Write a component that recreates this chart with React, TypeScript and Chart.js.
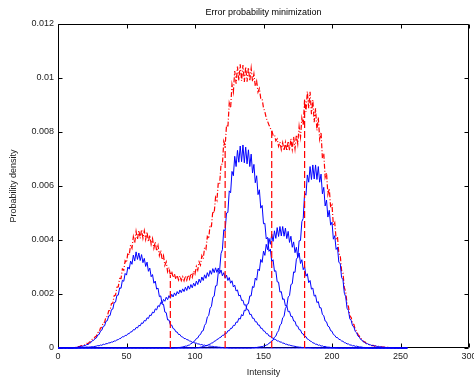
import React, { useEffect, useRef } from "react";
import { Chart, registerables } from "chart.js";

Chart.register(...registerables);

const chartTitle = "Error probability minimization";
const xAxisLabel = "Intensity";
const yAxisLabel = "Probability density";
const intensityMax = 255;
const xMin = 0;
const xMax = 300;
const xStep = 50;
const yMin = 0;
const yMax = 0.012;
const yStep = 0.002;

// decision thresholds (intensity)
const thresholds = [82, 122, 156, 180];

// class-conditional densities, values in units of 1e-5, starting at the given intensity
const densityUnit = 1e-5;

const class1Start = 10;
const class1 = [
  0, 1, 1, 2, 3, 4, 5, 7, 6, 9,
  9, 13, 13, 18, 20, 27, 28, 35, 37, 48,
  50, 63, 66, 80, 82, 99, 101, 119, 120, 142,
  144, 168, 170, 195, 196, 223, 221, 251, 247, 276,
  270, 300, 292, 322, 310, 344, 322, 356, 328, 352,
  324, 346, 316, 332, 302, 318, 284, 296, 264, 272,
  240, 248, 218, 222, 190, 193, 162, 162, 133, 131,
  104, 104, 86, 85, 72, 70, 60, 59, 50, 50,
  42, 41, 35, 35, 31, 30, 26, 25, 21, 21,
  18, 18, 15, 15, 12, 13, 10, 11, 8, 9,
  7, 7, 6, 6, 4, 5, 4, 3, 3, 2,
  2, 1, 1, 1, 1, 0,
];

const class2Start = 15;
const class2 = [
  1, 1, 2, 2, 3, 3, 4, 3, 4, 4,
  5, 5, 6, 7, 9, 8, 11, 10, 14, 13,
  16, 16, 19, 19, 22, 22, 26, 26, 30, 31,
  35, 36, 42, 41, 47, 46, 53, 53, 60, 60,
  68, 67, 76, 74, 84, 82, 93, 91, 102, 100,
  112, 109, 122, 120, 133, 130, 145, 141, 157, 153,
  169, 165, 180, 173, 188, 179, 194, 184, 199, 189,
  204, 194, 209, 200, 215, 205, 219, 209, 225, 213,
  230, 218, 235, 223, 240, 229, 248, 235, 255, 242,
  263, 250, 271, 258, 279, 265, 287, 273, 294, 279,
  297, 280, 296, 276, 289, 267, 279, 258, 270, 250,
  261, 240, 249, 226, 233, 211, 215, 193, 196, 176,
  177, 159, 160, 142, 141, 124, 125, 110, 110, 97,
  97, 85, 85, 73, 73, 63, 62, 53, 53, 44,
  44, 37, 37, 32, 31, 26, 26, 22, 22, 18,
  18, 14, 14, 11, 11, 9, 8, 7, 6, 5,
  4, 3, 3, 2, 2, 2, 1, 1, 1, 1, 0,
];

const class3Start = 85;
const class3 = [
  0, 1, 1, 2, 2, 3, 4, 5, 7, 7,
  10, 11, 16, 18, 24, 27, 35, 37, 47, 50,
  62, 64, 84, 91, 115, 120, 147, 154, 188, 192,
  230, 231, 280, 290, 350, 364, 438, 434, 500, 502,
  582, 575, 654, 638, 710, 672, 732, 688, 748, 690,
  752, 686, 744, 682, 734, 672, 718, 648, 680, 612,
  638, 568, 586, 518, 528, 460, 462, 404, 410, 358,
  366, 320, 327, 284, 286, 245, 244, 207, 209, 180,
  182, 156, 157, 134, 136, 117, 117, 100, 99, 82,
  81, 68, 67, 54, 52, 43, 42, 33, 31, 26,
  24, 19, 18, 14, 14, 10, 11, 7, 8, 5,
  6, 4, 3, 3, 2, 2, 1, 1, 1, 0, 0,
];

const class4Start = 100;
const class4 = [
  0, 1, 1, 2, 3, 4, 6, 6, 9, 10,
  13, 14, 18, 19, 25, 26, 32, 33, 39, 40,
  47, 47, 55, 54, 64, 64, 73, 73, 84, 83,
  96, 95, 110, 107, 124, 119, 140, 138, 162, 164,
  193, 193, 228, 224, 259, 251, 292, 286, 328, 317,
  359, 343, 384, 364, 406, 384, 422, 395, 434, 406,
  446, 413, 450, 415, 450, 414, 444, 405, 432, 391,
  414, 373, 393, 353, 373, 335, 352, 313, 327, 290,
  302, 266, 275, 242, 250, 218, 222, 192, 196, 168,
  172, 149, 149, 124, 120, 100, 97, 81, 78, 64,
  62, 50, 47, 39, 39, 32, 31, 26, 25, 20,
  19, 15, 15, 11, 11, 8, 9, 6, 7, 5,
  4, 4, 3, 2, 2, 1, 1, 1, 0, 0, 0,
];

const class5Start = 140;
const class5 = [
  0, 0, 1, 1, 2, 2, 3, 4, 5, 5,
  7, 8, 11, 12, 18, 20, 27, 29, 40, 44,
  57, 64, 84, 89, 112, 117, 147, 154, 189, 194,
  235, 238, 282, 280, 329, 336, 397, 398, 468, 480,
  574, 566, 641, 614, 672, 624, 678, 626, 678, 624,
  672, 614, 644, 571, 595, 526, 548, 485, 510, 455,
  466, 403, 416, 365, 373, 317, 313, 261, 253, 203,
  190, 147, 139, 108, 102, 82, 78, 61, 56, 44,
  40, 31, 29, 22, 21, 16, 16, 12, 12, 9,
  10, 7, 8, 5, 6, 4, 4, 3, 3, 2,
  2, 2, 1, 1, 1, 1, 0, 0, 0,
];

const classes: [number, number[]][] = [
  [class1Start, class1],
  [class2Start, class2],
  [class3Start, class3],
  [class4Start, class4],
  [class5Start, class5],
];

const FONT = "'Liberation Sans', Arial, Helvetica, sans-serif";

function expand(start: number, vals: number[]): number[] {
  const out: number[] = [];
  for (let i = 0; i <= intensityMax; i++) out.push(0);
  vals.forEach((v, i) => {
    if (start + i <= intensityMax) out[start + i] = v * densityUnit;
  });
  return out;
}

const framePlugin = {
  id: "matlabFrame",
  beforeDatasetsDraw(chart: any) {
    const { ctx, chartArea, scales } = chart;
    const l = Math.round(chartArea.left) + 0.5;
    const r = Math.round(chartArea.right) - 0.5;
    const t = Math.round(chartArea.top) + 0.5;
    const b = Math.round(chartArea.bottom) - 0.5;
    const tl = 4;
    ctx.save();
    ctx.strokeStyle = "#000";
    ctx.lineWidth = 1;
    ctx.beginPath();
    ctx.rect(l, t, r - l, b - t);
    scales.x.ticks.forEach((tk: any) => {
      const px = Math.round(scales.x.getPixelForValue(tk.value)) + 0.5;
      ctx.moveTo(px, b);
      ctx.lineTo(px, b - tl);
      ctx.moveTo(px, t);
      ctx.lineTo(px, t + tl);
    });
    scales.y.ticks.forEach((tk: any) => {
      const py = Math.round(scales.y.getPixelForValue(tk.value)) + 0.5;
      ctx.moveTo(l, py);
      ctx.lineTo(l + tl, py);
      ctx.moveTo(r, py);
      ctx.lineTo(r - tl, py);
    });
    ctx.stroke();
    ctx.restore();
  },
};

export default function App() {
  const canvasRef = useRef<HTMLCanvasElement | null>(null);

  useEffect(() => {
    const canvas = canvasRef.current;
    if (!canvas) return;

    const classCurves = classes.map(([s, v]) => expand(s, v));
    const mixture: number[] = [];
    for (let i = 0; i <= intensityMax; i++) {
      mixture.push(classCurves.reduce((acc, c) => acc + c[i], 0));
    }

    const toPoints = (arr: number[]) => arr.map((y, x) => ({ x, y }));
    const clip = { left: 0, top: 0, right: 0, bottom: 2 };

    const datasets: any[] = [];
    thresholds.forEach((th) => {
      datasets.push({
        data: [
          { x: th, y: 0 },
          { x: th, y: mixture[th] },
        ],
        borderColor: "#ff0000",
        borderWidth: 1.2,
        borderDash: [7, 3],
        pointRadius: 0,
        fill: false,
        clip,
      });
    });
    classCurves.forEach((c) => {
      datasets.push({
        data: toPoints(c),
        borderColor: "#0000ff",
        borderWidth: 1,
        pointRadius: 0,
        tension: 0,
        fill: false,
        clip,
      });
    });
    datasets.push({
      data: toPoints(mixture),
      borderColor: "#ff0000",
      borderWidth: 1.2,
      borderDash: [5, 2, 1, 2],
      pointRadius: 0,
      tension: 0,
      fill: false,
      clip,
    });

    const chart = new Chart(canvas, {
      type: "line",
      data: { datasets },
      options: {
        animation: false,
        responsive: false,
        maintainAspectRatio: false,
        parsing: false as any,
        normalized: true,
        layout: { padding: { left: 0, right: 5, top: 0, bottom: 0 } },
        plugins: {
          legend: { display: false },
          tooltip: { enabled: false },
          title: {
            display: true,
            text: chartTitle,
            fullSize: false,
            color: "#000",
            font: { family: FONT, size: 9, weight: "normal" as any },
            padding: { top: 7, bottom: 6.2 },
          },
        },
        scales: {
          x: {
            type: "linear",
            min: xMin,
            max: xMax,
            grid: { display: false, drawTicks: false },
            border: { display: false },
            ticks: {
              stepSize: xStep,
              color: "#222",
              padding: 3,
              maxRotation: 0,
              font: { family: FONT, size: 9 },
            },
            title: {
              display: true,
              text: xAxisLabel,
              color: "#222",
              font: { family: FONT, size: 9 },
              padding: { top: 0, bottom: 1 },
            },
            afterFit: (s: any) => {
              s.height = 31;
              s.paddingLeft = 0;
              s.paddingRight = 0;
            },
          },
          y: {
            type: "linear",
            min: yMin,
            max: yMax,
            grid: { display: false, drawTicks: false },
            border: { display: false },
            ticks: {
              stepSize: yStep,
              color: "#222",
              padding: 4,
              font: { family: FONT, size: 9 },
              callback: (v: any) => {
                const n = Number(v);
                return n === 0 ? "0" : String(parseFloat(n.toFixed(3)));
              },
            },
            title: {
              display: true,
              text: yAxisLabel,
              color: "#222",
              font: { family: FONT, size: 9 },
              padding: { top: 8.6, bottom: 0 },
            },
            afterFit: (s: any) => {
              s.width = 58;
              s.paddingTop = 0;
              s.paddingBottom = 0;
            },
          },
        },
      },
      plugins: [framePlugin],
    });

    return () => chart.destroy();
  }, []);

  return (
    <div style={{ position: "fixed", left: 0, top: 0, width: 474, height: 379, background: "#fff" }}>
      <canvas ref={canvasRef} width={474} height={379} style={{ display: "block", width: 474, height: 379 }} />
    </div>
  );
}
